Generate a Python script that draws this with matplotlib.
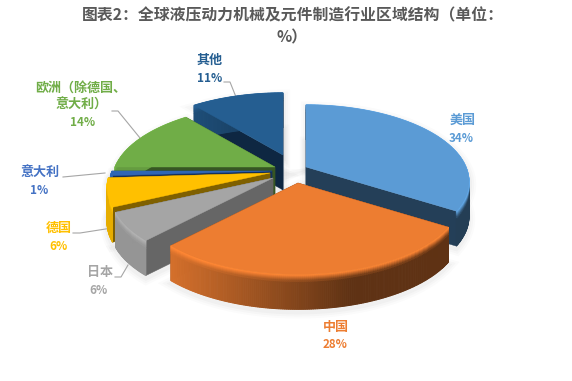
import numpy as np
import matplotlib
matplotlib.use("Agg")
import matplotlib.pyplot as plt
from matplotlib.patches import Polygon

plt.rcParams['font.family'] = ['Noto Sans CJK SC', 'DejaVu Sans']

title_lines = ["图表2：全球液压动力机械及元件制造行业区域结构（单位：", "%）"]
names = ["美国", "中国", "日本", "德国", "意大利", "欧洲（除德国、\n意大利）", "其他"]
shares = [34, 28, 6, 6, 1, 14, 11]

# look of each slice
colors = ["#5B9BD5", "#ED7D31", "#A5A5A5", "#FFC000", "#2F66B5", "#70AD47", "#255E91"]
wall_colors = ["#243F58", "#7A3A12", "#666666", "#7F6000", "#14305C", "#375623", "#0E2742"]
label_colors = ["#5B9BD5", "#ED7D31", "#A5A5A5", "#FFC000", "#4472C4", "#70AD47", "#255E91"]
# where each slice was pulled out to
apex_x = [306, 298, 273, 270, 272, 275, 283]
apex_y = [167, 183, 178, 173, 171, 167, 155]
draw_order = [6, 5, 4, 3, 2, 0, 1]
label_xy = [(463, 120), (336, 327), (100, 272), (59, 228), (40, 172), (81, 97), (210, 60)]
pct_xy = [(461, 138), (335, 344), (98, 290), (58, 246), (39, 190), (83, 123), (210, 78)]
leaders = [None, None,
           [(115, 277), (121, 277), (128, 265)],
           [(73, 233), (80, 233), (112, 228)],
           [(63, 177), (105, 173)],
           [(112, 111), (118, 111), (140, 138)],
           [(224, 82), (230, 82), (236, 97)]]

R0 = 160.0
A = 74.0
P = 0.19
DEPTH = 35


def project(i, r, theta):
    X = r * np.sin(theta)
    Y = r * np.cos(theta)
    s = 1.0 / (1.0 + P * Y)
    return apex_x[i] + R0 * X * s, apex_y[i] - A * Y * s


def shade(col, f):
    c = np.array(matplotlib.colors.to_rgb(col))
    return tuple(np.clip(c * f, 0, 1))


fig = plt.figure(figsize=(5.72, 3.81), dpi=100)
ax = fig.add_axes([0, 0, 1, 1])
ax.set_xlim(0, 572)
ax.set_ylim(381, 0)
ax.axis('off')

edges = np.radians(np.cumsum([0] + shares) * 3.6)

for i in draw_order:
    t = np.linspace(edges[i], edges[i + 1], max(6, int(shares[i] * 6)))
    px, py = project(i, 1.0, t)
    col = colors[i]

    # soft shadow
    xs = np.r_[apex_x[i], px]
    ys = np.r_[apex_y[i], py]
    for lw, al in [(9, 0.015), (6, 0.02), (3, 0.025)]:
        ax.add_patch(Polygon(np.c_[xs, ys + DEPTH + 3], fc="none", ec="#000000", lw=lw, alpha=al, zorder=1))
        ax.add_patch(Polygon(np.c_[xs + 1, ys + 3], fc="none", ec="#000000", lw=lw, alpha=al, zorder=1))

    # the two cut walls
    for k in [0, -1]:
        wall = [(apex_x[i], apex_y[i]), (px[k], py[k]), (px[k], py[k] + DEPTH), (apex_x[i], apex_y[i] + DEPTH)]
        ax.add_patch(Polygon(wall, fc=wall_colors[i], ec=wall_colors[i], lw=0.3, zorder=3))

    # outer rim, dark towards the right, rounded at the top
    zs = [0, 1, 2, 3, 4, 5, 6, 8, DEPTH]
    for j in range(len(t) - 1):
        xm = 0.5 * (px[j] + px[j + 1])
        f = 0.9 - 0.5 * np.clip((xm - 170) / 180.0, 0, 1)
        for a in range(len(zs) - 1):
            m = min(a / 7.0, 1.0)
            ff = 1.12 * (1 - m) + f * m
            q = [(px[j], py[j] + zs[a]), (px[j + 1], py[j + 1] + zs[a]),
                 (px[j + 1], py[j + 1] + zs[a + 1]), (px[j], py[j] + zs[a + 1])]
            c = shade(col, ff)
            ax.add_patch(Polygon(q, fc=c, ec=c, lw=0.7, zorder=3))

    # top face
    top = np.c_[np.r_[apex_x[i], px], np.r_[apex_y[i], py]]
    ax.add_patch(Polygon(top, fc=col, ec=col, lw=0.3, zorder=3))

for i in range(len(names)):
    ax.text(label_xy[i][0], label_xy[i][1], names[i], color=label_colors[i], fontsize=9.4,
            fontweight='bold', ha='center', va='center', linespacing=1.15, zorder=5)
    ax.text(pct_xy[i][0], pct_xy[i][1], str(shares[i]) + "%", color=label_colors[i], fontsize=8.4,
            fontweight='bold', ha='center', va='center', zorder=5)
    if leaders[i] is not None:
        ax.plot([p[0] for p in leaders[i]], [p[1] for p in leaders[i]], color="#A6A6A6", lw=0.8, zorder=2)

ax.text(293, 15, title_lines[0], color="#595959", fontsize=11.4, fontweight='bold', ha='center', va='center', zorder=5)
ax.text(292, 37, title_lines[1], color="#595959", fontsize=11.4, fontweight='bold', ha='center', va='center', zorder=5)

fig.savefig("out.png", dpi=100)
